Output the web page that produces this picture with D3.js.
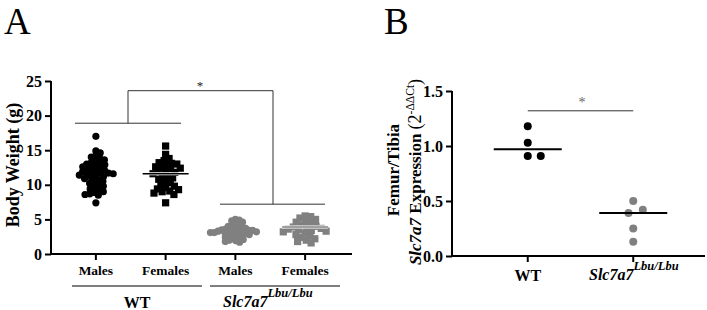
<!DOCTYPE html>
<html>
<head>
<meta charset="utf-8">
<script src="https://cdn.jsdelivr.net/npm/d3@7"></script>
<style>
  body { margin: 0; background: #fff; }
  svg text { font-family: "Liberation Serif", "Times New Roman", serif; }
</style>
</head>
<body>
<svg id="chart" width="707" height="310"></svg>
<script>
// --- Panel A data (body weight, g) ---
const groupsA = ["WT Males", "WT Females", "Slc Males", "Slc Females"];
const catLabelsA = ["Males", "Females", "Males", "Females"];
const wtMales = [17.0, 14.9, 14.6, 14.2, 14.0, 13.8, 13.6, 13.4, 13.2, 13.1, 13.0, 12.9, 12.7, 12.6,
  12.5, 12.4, 12.2, 12.1, 12.0, 11.9, 11.8, 11.7, 11.7, 11.6, 11.5, 11.4, 11.3, 11.2, 11.0, 10.9,
  10.7, 10.5, 10.3, 10.2, 10.0, 9.8, 9.6, 9.4, 9.2, 9.0, 8.9, 8.7, 8.6, 8.5, 7.4];
const wtFemales = [15.6, 14.4, 13.8, 13.5, 13.2, 13.1, 13.0, 12.8, 12.6, 12.5, 12.4, 12.3, 12.0,
  11.9, 11.8, 11.6, 11.4, 11.2, 11.0, 10.8, 10.5, 10.3, 10.0, 9.8, 9.6, 9.4, 9.3, 9.1, 9.0, 8.8, 8.6, 7.4];
const slcMales = [5.0, 4.9, 4.8, 4.6, 4.4, 4.3, 4.1, 4.0, 3.9, 3.8, 3.7, 3.6, 3.5, 3.5, 3.5, 3.4,
  3.4, 3.3, 3.3, 3.2, 3.2, 3.2, 3.1, 3.1, 3.0, 3.0, 2.9, 2.8, 2.8, 2.7, 2.6, 2.5, 2.4, 2.3, 2.2,
  2.1, 2.0, 1.9, 1.8, 1.7];
const slcFemales = [5.5, 5.4, 5.2, 5.0, 4.7, 4.6, 4.4, 4.2, 4.0, 3.9, 3.8, 3.7, 3.6, 3.5, 3.4,
  3.3, 3.2, 3.0, 2.8, 2.6, 2.4, 2.2, 2.0, 1.8, 1.6];
const meanLinesA = [null, 11.6, null, 3.9]; // only the mean bars that show
const ticksA = [0, 5, 10, 15, 20, 25];

// --- Panel B data (relative expression) ---
const groupsB = ["WT", "Slc"];
const wtExpr = [1.18, 1.03, 0.91, 0.91];
const slcExpr = [0.50, 0.42, 0.39, 0.25, 0.13];
const meanLinesB = [0.97, 0.39];
const ticksB = [0, 0.5, 1.0, 1.5];

const svg = d3.select("#chart");
const black = "#000";
const grey = "#808080";

// beeswarm: each point goes as close to the centre as it can
function swarm(values, y, minDist) {
  const placed = [];
  const sorted = values.slice().sort((a, b) => b - a);
  sorted.forEach(v => {
    const py = y(v);
    const near = placed.filter(p => Math.abs(p.y - py) < minDist);
    let cands = [0];
    near.forEach(p => {
      const dx = Math.sqrt(minDist * minDist - (p.y - py) ** 2);
      cands.push(p.x + dx, p.x - dx);
    });
    cands.sort((a, b) => Math.abs(a) - Math.abs(b));
    const ok = cands.find(cx => near.every(p => (p.x - cx) ** 2 + (p.y - py) ** 2 >= minDist * minDist - 0.01));
    placed.push({ v: v, x: ok, y: py });
  });
  return placed;
}

function styleAxis(g) {
  g.selectAll(".domain, .tick line").attr("stroke-width", 2);
  g.selectAll(".tick text").attr("font-size", 16).attr("font-weight", "bold")
    .attr("font-family", "Liberation Serif");
}

// ========== Panel A ==========
const yA = d3.scaleLinear().domain([0, 25]).range([254, 81]);
const xA = d3.scaleBand().domain(groupsA).range([61, 340]);
const cxA = g => xA(g) + xA.bandwidth() / 2;

svg.append("text").attr("x", 4).attr("y", 34).attr("font-size", 37).text("A");

const yAxisA = svg.append("g").attr("transform", "translate(51,0)")
  .call(d3.axisLeft(yA).tickValues(ticksA).tickSize(6).tickFormat(d3.format("d")));
yAxisA.select(".domain").attr("d", "M0,81V254");
styleAxis(yAxisA);
const xAxisA = svg.append("g").attr("transform", "translate(0,254)")
  .call(d3.axisBottom(xA).tickSize(6).tickFormat(""));
xAxisA.select(".domain").attr("d", "M51,0H352");
styleAxis(xAxisA);

svg.append("text")
  .attr("transform", "translate(19,165) rotate(-90)")
  .attr("text-anchor", "middle")
  .attr("font-size", 18).attr("font-weight", "bold")
  .text("Body Weight (g)");

// category labels
svg.selectAll(".catA").data(groupsA).enter().append("text")
  .attr("x", d => cxA(d)).attr("y", 275)
  .attr("text-anchor", "middle").attr("font-size", 13.5).attr("font-weight", "bold")
  .text((d, i) => catLabelsA[i]);

// genotype group lines
svg.append("line").attr("x1", 72).attr("x2", 202).attr("y1", 286).attr("y2", 286)
  .attr("stroke", black).attr("stroke-width", 1.2);
svg.append("line").attr("x1", 210).attr("x2", 340).attr("y1", 286).attr("y2", 286)
  .attr("stroke", black).attr("stroke-width", 1.2);
svg.append("text").attr("x", 137).attr("y", 308).attr("text-anchor", "middle")
  .attr("font-size", 16).attr("font-weight", "bold").text("WT");
const gtA = svg.append("text").attr("x", 223).attr("y", 307)
  .attr("font-size", 16).attr("font-weight", "bold").attr("font-style", "italic");
gtA.append("tspan").text("Slc7a7");
gtA.append("tspan").attr("dy", -10).attr("font-size", 12.5).text("Lbu/Lbu");

// significance bracket
const bracket = svg.append("g").attr("stroke", "#333").attr("stroke-width", 1).attr("fill", "none");
const wtTop = yA(18.9), slcTop = yA(7.2), barTop = yA(23.6);
bracket.append("line").attr("x1", 75).attr("x2", 181).attr("y1", wtTop).attr("y2", wtTop);
bracket.append("line").attr("x1", 220).attr("x2", 325).attr("y1", slcTop).attr("y2", slcTop);
bracket.append("path").attr("d", `M128,${wtTop}V${barTop}H273V${slcTop}`);
svg.append("text").attr("x", 200).attr("y", barTop - 1)
  .attr("text-anchor", "middle").attr("font-size", 13).attr("fill", "#222").text("*");

// points
const seriesA = [
  { g: "WT Males", vals: wtMales, shape: "circle", color: black, gap: 4.8 },
  { g: "WT Females", vals: wtFemales, shape: "square", color: black, gap: 5.4 },
  { g: "Slc Males", vals: slcMales, shape: "circle", color: grey, gap: 3.9 },
  { g: "Slc Females", vals: slcFemales, shape: "square", color: grey, gap: 5.6 }
];
seriesA.forEach((s, i) => {
  const pts = swarm(s.vals, yA, s.gap);
  const gEl = svg.append("g").attr("fill", s.color);
  if (s.shape === "circle") {
    gEl.selectAll("circle").data(pts).enter().append("circle")
      .attr("cx", d => cxA(s.g) + d.x).attr("cy", d => d.y).attr("r", 3.6);
  } else {
    gEl.selectAll("rect").data(pts).enter().append("rect")
      .attr("x", d => cxA(s.g) + d.x - 3.6).attr("y", d => d.y - 3.6)
      .attr("width", 7.2).attr("height", 7.2);
  }
  if (meanLinesA[i] != null) {
    const my = yA(meanLinesA[i]);
    svg.append("line").attr("x1", cxA(s.g) - 23).attr("x2", cxA(s.g) + 23)
      .attr("y1", my).attr("y2", my).attr("stroke", "#fff").attr("stroke-width", 3);
    svg.append("line").attr("x1", cxA(s.g) - 23).attr("x2", cxA(s.g) + 23)
      .attr("y1", my).attr("y2", my).attr("stroke", s.color).attr("stroke-width", 1.5);
  }
});

// ========== Panel B ==========
const yB = d3.scaleLinear().domain([0, 1.5]).range([256, 91]);
const xB = d3.scaleBand().domain(groupsB).range([475, 686]);
const cxB = g => xB(g) + xB.bandwidth() / 2;

svg.append("text").attr("x", 384).attr("y", 34).attr("font-size", 37).text("B");

const yAxisB = svg.append("g").attr("transform", "translate(452,0)")
  .call(d3.axisLeft(yB).tickValues(ticksB).tickSize(6).tickFormat(d3.format(".1f")));
yAxisB.select(".domain").attr("d", "M0,91V256");
styleAxis(yAxisB);
const xAxisB = svg.append("g").attr("transform", "translate(0,256)")
  .call(d3.axisBottom(xB).tickSize(6).tickFormat(""));
xAxisB.select(".domain").attr("d", "M452,0H705");
styleAxis(xAxisB);

svg.append("text").attr("x", cxB("WT")).attr("y", 281).attr("text-anchor", "middle")
  .attr("font-size", 16).attr("font-weight", "bold").text("WT");
const gtB = svg.append("text").attr("x", 589).attr("y", 280)
  .attr("font-size", 16).attr("font-weight", "bold").attr("font-style", "italic");
gtB.append("tspan").text("Slc7a7");
gtB.append("tspan").attr("dy", -10).attr("font-size", 12.5).text("Lbu/Lbu");

// y label, two lines
svg.append("text")
  .attr("transform", "translate(399,170) rotate(-90)")
  .attr("text-anchor", "middle").attr("font-size", 17).attr("font-weight", "bold")
  .text("Femur/Tibia");
const ylB = svg.append("text")
  .attr("transform", "translate(421,172) rotate(-90)")
  .attr("text-anchor", "middle").attr("font-size", 17).attr("font-weight", "bold");
ylB.append("tspan").attr("font-style", "italic").text("Slc7a7");
ylB.append("tspan").text(" Expression ");
ylB.append("tspan").attr("font-size", 18).attr("font-weight", "normal").text("(2");
ylB.append("tspan").attr("font-size", 11.5).attr("font-weight", "normal").attr("dy", -7).text("-ΔΔCt");
ylB.append("tspan").attr("font-size", 18).attr("dy", 7).attr("font-weight", "normal").text(")");

// significance
const sigY = yB(1.32);
svg.append("line").attr("x1", cxB("WT")).attr("x2", cxB("Slc"))
  .attr("y1", sigY).attr("y2", sigY).attr("stroke", "#333");
svg.append("text").attr("x", 582).attr("y", sigY - 4).attr("text-anchor", "middle")
  .attr("font-size", 14).attr("fill", "#666").text("*");

// points and mean bars
const seriesB = [
  { g: "WT", vals: wtExpr, color: black },
  { g: "Slc", vals: slcExpr, color: grey }
];
seriesB.forEach((s, i) => {
  const pts = swarm(s.vals, yB, 13);
  svg.append("g").attr("fill", s.color).selectAll("circle").data(pts).enter().append("circle")
    .attr("cx", d => cxB(s.g) + d.x).attr("cy", d => d.y).attr("r", 4);
  const my = yB(meanLinesB[i]);
  svg.append("line").attr("x1", cxB(s.g) - 34).attr("x2", cxB(s.g) + 34)
    .attr("y1", my).attr("y2", my).attr("stroke", black).attr("stroke-width", 2);
});
</script>
</body>
</html>
